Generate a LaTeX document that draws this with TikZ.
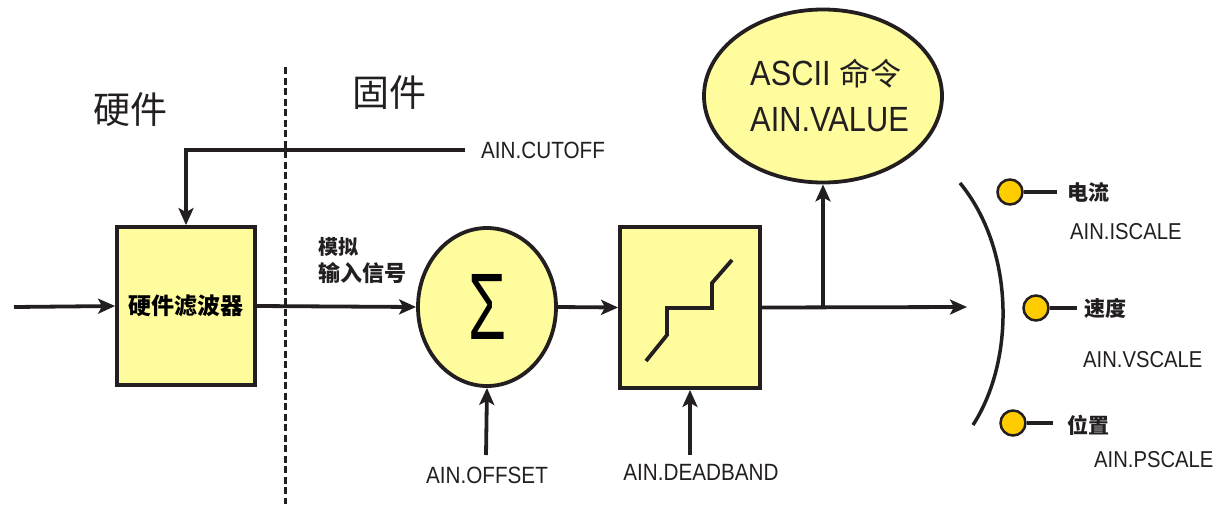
\documentclass[tikz,border=0pt]{standalone}
\usepackage{fontspec}
\setmainfont[FakeStretch=0.88]{Liberation Sans}
\newfontfamily\cjk{Noto Sans CJK SC}
\newfontfamily\sigmafont{Liberation Sans}
\usetikzlibrary{arrows.meta,shapes.geometric}
\definecolor{ink}{HTML}{231F20}
\definecolor{paleyellow}{HTML}{FFFC9E}
\definecolor{dotyellow}{HTML}{FFCC00}
\tikzset{
  wire/.style={draw=ink, line width=3.8pt},
  arr/.style={wire, -{Stealth[length=17pt,width=15pt,inset=4pt]}},
  block/.style={draw=ink, line width=3.8pt, fill=paleyellow, inner sep=0pt},
  lbl/.style={inner sep=0pt, text=ink},
  dot/.style={circle, draw=ink, line width=2.5pt, fill=dotyellow, minimum size=25pt, inner sep=0pt},
}
\begin{document}
\begin{tikzpicture}[x=1pt,y=-1pt]
\useasboundingbox (0,0) rectangle (1223,504);
% divider
\draw[ink, line width=3pt, dash pattern=on 7pt off 3.5pt] (285,67) -- (285,504);
% headings
\node[lbl] (hw) at (130,110) {\cjk\fontsize{37}{40}\selectfont 硬件};
\node[lbl] (fw) at (389,93) {\cjk\fontsize{37}{40}\selectfont 固件};
% blocks
\node[block, rectangle, minimum width=138pt, minimum height=158pt] (filt) at (186,306) {\cjk\bfseries\fontsize{23}{26}\selectfont 硬件滤波器};
\node[block, ellipse, minimum width=138pt, minimum height=158pt] (sum) at (487,307) {\sigmafont\resizebox{38pt}{65pt}{Σ}};
\node[block, rectangle, minimum width=140pt, minimum height=161pt] (dead) at (690,307.5) {};
\node[block, ellipse, minimum width=238pt, minimum height=173pt] (val) at (823,96) {};
\node[lbl, anchor=west] (v1) at (750,74) {\fontsize{35}{38}\selectfont ASCII {\cjk\fontsize{31}{34}\selectfont 命令}};
\node[lbl, anchor=west] (v2) at (750,120) {\fontsize{35}{38}\selectfont AIN.VALUE};
% staircase
\draw[ink, line width=3.8pt] (646,361) -- (667,335) -- (667,308) -- (712,308) -- (712,283) -- (732,260);
% coordinates
\coordinate (in) at (14,307);
\coordinate (cut) at (465,150);
\coordinate (off) at (486,455);
\coordinate (db) at (690,455);
\coordinate (br) at (823,307);
\coordinate (outend) at (967,307);
% connectors
\draw[arr] (in) -- (filt.west);
\draw[arr] (filt.east) -- (sum.west);
\draw[arr] (cut) -| (filt.north);
\draw[arr] (sum.east) -- (dead.west);
\draw[arr] (off) -- (sum.south);
\draw[arr] (db) -- (dead.south);
\draw[arr] (dead.east) -- (outend);
\draw[arr] (br) -- (val.south);
% labels
\node[lbl, anchor=west] (lcut) at (481,150) {\fontsize{23.5}{26}\selectfont AIN.CUTOFF};
\node[lbl, anchor=west] (lsig1) at (318,247) {\cjk\bfseries\fontsize{20}{22}\selectfont 模拟};
\node[lbl, anchor=west] (lsig2) at (318,273) {\cjk\bfseries\fontsize{22}{24}\selectfont 输入信号};
\node[lbl] (loff) at (487,475) {\fontsize{23.5}{26}\selectfont AIN.OFFSET};
\node[lbl] (ldb) at (701,472) {\fontsize{23.5}{26}\selectfont AIN.DEADBAND};
% switch arc
\draw[ink, line width=3.5pt] (960,183) .. controls (1015,250) and (1015,360) .. (973,425);
% switch positions
\node[dot] (d1) at (1010,192) {};
\coordinate (e1) at (1057,192);
\draw[wire] (d1.east) -- (e1);
\node[lbl, anchor=west] (t1) at (1067,192) {\cjk\bfseries\fontsize{21}{23}\selectfont 电流};
\node[lbl, anchor=west] (s1) at (1070,232) {\fontsize{23}{25}\selectfont AIN.ISCALE};
\node[dot] (d2) at (1036,308) {};
\coordinate (e2) at (1077,308);
\draw[wire] (d2.east) -- (e2);
\node[lbl, anchor=west] (t2) at (1084,308) {\cjk\bfseries\fontsize{21}{23}\selectfont 速度};
\node[lbl, anchor=west] (s2) at (1083,360) {\fontsize{23}{25}\selectfont AIN.VSCALE};
\node[dot] (d3) at (1013,423) {};
\coordinate (e3) at (1053,423);
\draw[wire] (d3.east) -- (e3);
\node[lbl, anchor=west] (t3) at (1067,425) {\cjk\bfseries\fontsize{21}{23}\selectfont 位置};
\node[lbl, anchor=west] (s3) at (1094,460) {\fontsize{23}{25}\selectfont AIN.PSCALE};
\end{tikzpicture}
\end{document}
